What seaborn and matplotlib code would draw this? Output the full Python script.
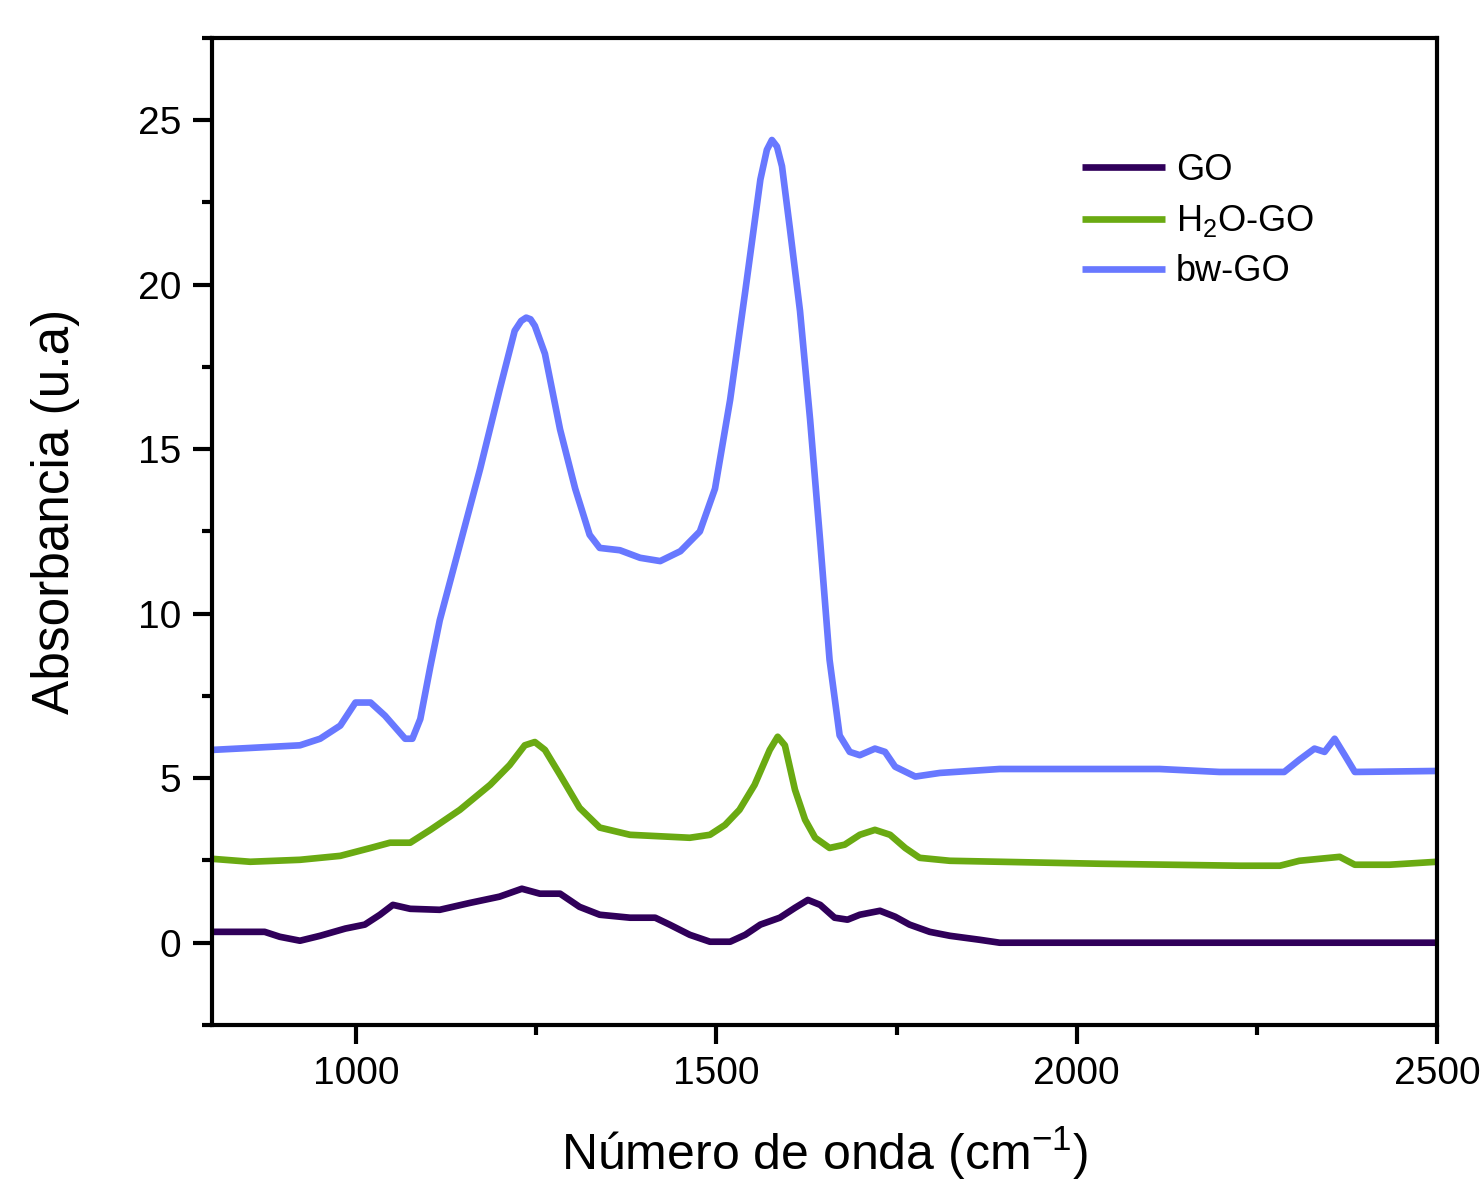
import numpy as np
import pandas as pd
import matplotlib
matplotlib.use("Agg")
import matplotlib.pyplot as plt
import seaborn as sns
from matplotlib.ticker import MultipleLocator

# ---- data ----
go_x = [800, 873, 894, 922, 950, 985, 1012, 1033, 1051, 1075, 1116, 1158, 1199, 1230,
        1255, 1283, 1310, 1338, 1380, 1415, 1435, 1463, 1491, 1519, 1540, 1561, 1588,
        1609, 1627, 1644, 1664, 1682, 1699, 1727, 1748, 1768, 1796, 1824, 1865, 1893, 2500]
go_y = [0.33, 0.33, 0.18, 0.06, 0.21, 0.43, 0.55, 0.85, 1.15, 1.03, 1.00, 1.21, 1.40, 1.64,
        1.49, 1.49, 1.09, 0.85, 0.76, 0.76, 0.55, 0.24, 0.03, 0.03, 0.24, 0.55, 0.76,
        1.06, 1.30, 1.15, 0.76, 0.70, 0.85, 0.97, 0.79, 0.55, 0.33, 0.21, 0.09, 0.00, 0.00]

h2o_x = [800, 853, 922, 978, 1020, 1047, 1075, 1103, 1144, 1186, 1213, 1234, 1248, 1262,
         1283, 1310, 1338, 1380, 1463, 1491, 1512, 1532, 1553, 1574, 1585, 1595, 1609,
         1623, 1637, 1657, 1678, 1699, 1720, 1741, 1762, 1782, 1824, 1893, 2032, 2226,
         2282, 2309, 2365, 2386, 2434, 2500]
h2o_y = [2.55, 2.46, 2.52, 2.64, 2.88, 3.04, 3.04, 3.43, 4.04, 4.80, 5.40, 6.00, 6.10, 5.86,
         5.10, 4.10, 3.50, 3.28, 3.19, 3.28, 3.58, 4.04, 4.80, 5.86, 6.26, 6.00, 4.65,
         3.74, 3.19, 2.88, 2.98, 3.28, 3.43, 3.28, 2.88, 2.58, 2.49, 2.46, 2.40, 2.34,
         2.34, 2.49, 2.61, 2.37, 2.37, 2.46]

bw_x = [800, 853, 922, 950, 978, 999, 1020, 1040, 1068, 1078, 1089, 1103, 1116, 1144,
        1172, 1199, 1220, 1229, 1236, 1242, 1248, 1262, 1283, 1304, 1324, 1338, 1366, 1394,
        1422, 1450, 1477, 1498, 1519, 1540, 1561, 1570, 1577, 1584, 1591, 1602, 1616, 1630,
        1644, 1657, 1671, 1685, 1699, 1720, 1734, 1748, 1776, 1810, 1893, 2115, 2198, 2288,
        2309, 2330, 2344, 2358, 2372, 2386, 2500]
bw_y = [5.86, 5.92, 6.00, 6.20, 6.60, 7.30, 7.30, 6.90, 6.20, 6.20, 6.80, 8.40, 9.80, 12.1,
        14.4, 16.8, 18.6, 18.9, 19.0, 18.95, 18.75, 17.9, 15.6, 13.8, 12.4, 12.0, 11.93, 11.7,
        11.6, 11.9, 12.5, 13.8, 16.5, 19.8, 23.2, 24.1, 24.4, 24.2, 23.6, 21.7, 19.2, 15.9,
        12.2, 8.6, 6.3, 5.8, 5.7, 5.9, 5.8, 5.35, 5.05, 5.16, 5.28, 5.28, 5.19, 5.19,
        5.56, 5.9, 5.8, 6.2, 5.7, 5.19, 5.22]

series_names = ["GO", "H$_2$O-GO", "bw-GO"]
colors = ["#30005a", "#6aaa12", "#6878ff"]

df = pd.concat([
    pd.DataFrame({"x": go_x, "y": go_y, "s": series_names[0]}),
    pd.DataFrame({"x": h2o_x, "y": h2o_y, "s": series_names[1]}),
    pd.DataFrame({"x": bw_x, "y": bw_y, "s": series_names[2]}),
], ignore_index=True)

sns.set_style("ticks")
plt.rcParams["font.family"] = ["Liberation Sans", "DejaVu Sans"]
plt.rcParams["mathtext.fontset"] = "custom"
plt.rcParams["mathtext.rm"] = "Liberation Sans"
plt.rcParams["mathtext.it"] = "Liberation Sans:italic"
plt.rcParams["mathtext.bf"] = "Liberation Sans:bold"
plt.rcParams["text.color"] = "black"
plt.rcParams["axes.labelcolor"] = "black"
plt.rcParams["xtick.color"] = "black"
plt.rcParams["ytick.color"] = "black"

fig = plt.figure(figsize=(14.84, 11.8), dpi=100)
ax = fig.add_axes([0.1429, 0.1314, 0.9683 - 0.1429, 0.9678 - 0.1314])

sns.lineplot(data=df, x="x", y="y", hue="s", palette=dict(zip(series_names, colors)),
             hue_order=series_names, estimator=None, sort=False, lw=4.8, ax=ax)
for ln in ax.get_lines():
    ln.set_linewidth(4.8)
    ln.set_solid_joinstyle("round")
    ln.set_solid_capstyle("butt")

ax.set_xlim(800, 2500)
ax.set_ylim(-2.5, 27.5)
ax.xaxis.set_major_locator(MultipleLocator(500))
ax.xaxis.set_minor_locator(MultipleLocator(250))
ax.yaxis.set_major_locator(MultipleLocator(5))
ax.yaxis.set_minor_locator(MultipleLocator(2.5))

for sp in ax.spines.values():
    sp.set_linewidth(3.0)
    sp.set_color("black")

ax.tick_params(axis="both", which="major", direction="out", length=14, width=3,
               labelsize=28, pad=8, top=False, right=False, colors="black")
ax.tick_params(axis="both", which="minor", direction="out", length=7, width=3,
               top=False, right=False, colors="black")

ax.set_xlabel("Número de onda (cm$^{-1}$)", fontsize=36, labelpad=24)
ax.set_ylabel("Absorbancia (u.a)", fontsize=37)
ax.yaxis.set_label_coords(-0.108, 0.52)

leg = ax.legend(loc="upper left", bbox_to_anchor=(1082 / 1484, 1 - 153 / 1180),
                bbox_transform=fig.transFigure, frameon=False, fontsize=26,
                handlelength=2.3, handletextpad=0.3, labelspacing=0.42,
                borderpad=0, borderaxespad=0, title=None)
for line in leg.get_lines():
    line.set_linewidth(4.8)

fig.savefig("out.png", dpi=100, facecolor="white")
